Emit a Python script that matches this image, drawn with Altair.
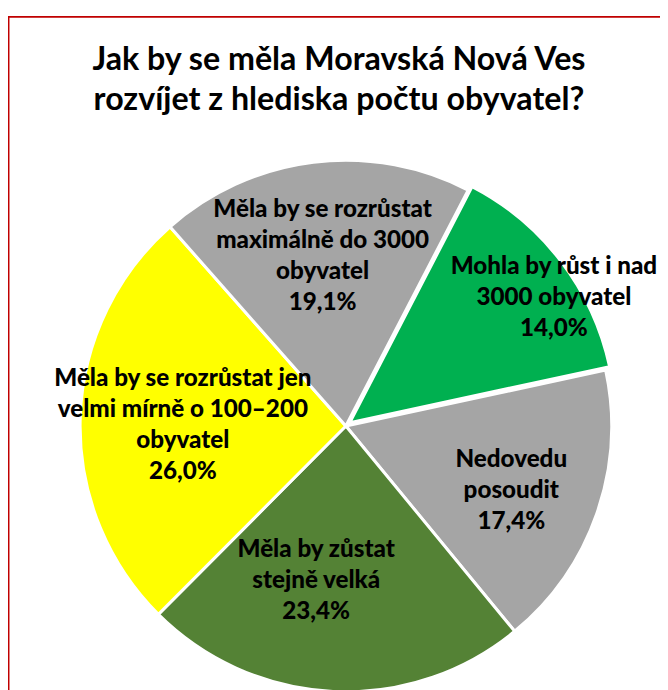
import math
import altair as alt
import pandas as pd

# ---- data ----
title_lines = ["Jak by se měla Moravská Nová Ves", "rozvíjet z hlediska počtu obyvatel?"]
categories = [
    "Mohla by růst i nad\n3000 obyvatel",
    "Nedovedu\nposoudit",
    "Měla by zůstat\nstejně velká",
    "Měla by se rozrůstat jen\nvelmi mírně o 100–200\nobyvatel",
    "Měla by se rozrůstat\nmaximálně do 3000\nobyvatel",
]
values = [14.0, 17.4, 23.4, 26.0, 19.1]
colors = ["#00B050", "#A5A5A5", "#548235", "#FFFF00", "#A5A5A5"]

# ---- layout (pixels / degrees) ----
START = math.radians(27.4)
CX, CY = 342, 419
R = 269
EXPLODED = categories[0]
EX_CX, EX_CY = 346, 415.5
LH = 31.5
label_r = [242, 180, 160, 165, 173]
label_dtheta = [6.0, 2.3, 8.1, -1.6, -0.8]

df = pd.DataFrame({
    "category": categories,
    "value": values,
    "order": list(range(len(categories))),
})
df["label"] = [c + "\n" + f"{v:.1f}".replace(".", ",") + "%" for c, v in zip(categories, values)]
df["nlines"] = [lbl.count("\n") + 1 for lbl in df["label"]]
df["lr"] = label_r
df["dtheta"] = label_dtheta
df["cx"] = [EX_CX if c == EXPLODED else CX for c in categories]
df["cy"] = [EX_CY if c == EXPLODED else CY for c in categories]

theta = alt.Theta("value:Q", stack=True, scale=alt.Scale(range=[START, START + 2 * math.pi]))
order = alt.Order("order:Q", sort="ascending")
color = alt.Color("category:N", scale=alt.Scale(domain=categories, range=colors), legend=None)
is_ex = alt.datum.category == EXPLODED

base = alt.Chart(df)

arcs_main = base.mark_arc(outerRadius=R, stroke="white", strokeWidth=3).encode(
    theta=theta, order=order, color=color,
    opacity=alt.condition(is_ex, alt.value(0), alt.value(1)),
    x=alt.value(CX), y=alt.value(CY),
)
arcs_ex = base.mark_arc(outerRadius=R, stroke="white", strokeWidth=3).encode(
    theta=theta, order=order, color=color,
    opacity=alt.condition(is_ex, alt.value(1), alt.value(0)),
    x=alt.value(EX_CX), y=alt.value(EX_CY),
)

labels = base.transform_window(
    cum="sum(value)", sort=[alt.SortField("order", order="ascending")], frame=[None, 0]
).transform_joinaggregate(
    total="sum(value)"
).transform_calculate(
    ang=f"{START} + 2*PI*(datum.cum - datum.value/2)/datum.total + datum.dtheta*PI/180"
).transform_calculate(
    lx="datum.cx + datum.lr*sin(datum.ang)",
    ly=f"datum.cy - datum.lr*cos(datum.ang) - (datum.nlines - 1)*{LH}/2",
).mark_text(
    font="Lato", fontSize=24.5, fontWeight=900, color="black",
    lineBreak="\n", lineHeight=LH, align="center", baseline="middle",
).encode(
    x=alt.X("lx:Q", scale=None, axis=None),
    y=alt.Y("ly:Q", scale=None, axis=None),
    text="label:N",
)

title = alt.Chart(pd.DataFrame({"t": ["\n".join(title_lines)]})).mark_text(
    font="Lato", fontSize=32.6, fontWeight="bold", color="black",
    lineBreak="\n", lineHeight=40, align="center", baseline="middle",
).encode(x=alt.value(335), y=alt.value(49), text="t:N")

border = alt.Chart(pd.DataFrame({"b": [0]})).mark_rect(
    fillOpacity=0, stroke="#C00000", strokeWidth=2
).encode(x=alt.value(0.5), y=alt.value(4.8), x2=alt.value(1000), y2=alt.value(1000))

chart = alt.layer(arcs_main, arcs_ex, labels, title, border).properties(
    width=660, height=682, padding=0, autosize=alt.AutoSizeParams(type="none"),
    background="white",
).configure_view(stroke=None)

chart.save("out.html", embed_options={"renderer": "svg", "actions": False})
